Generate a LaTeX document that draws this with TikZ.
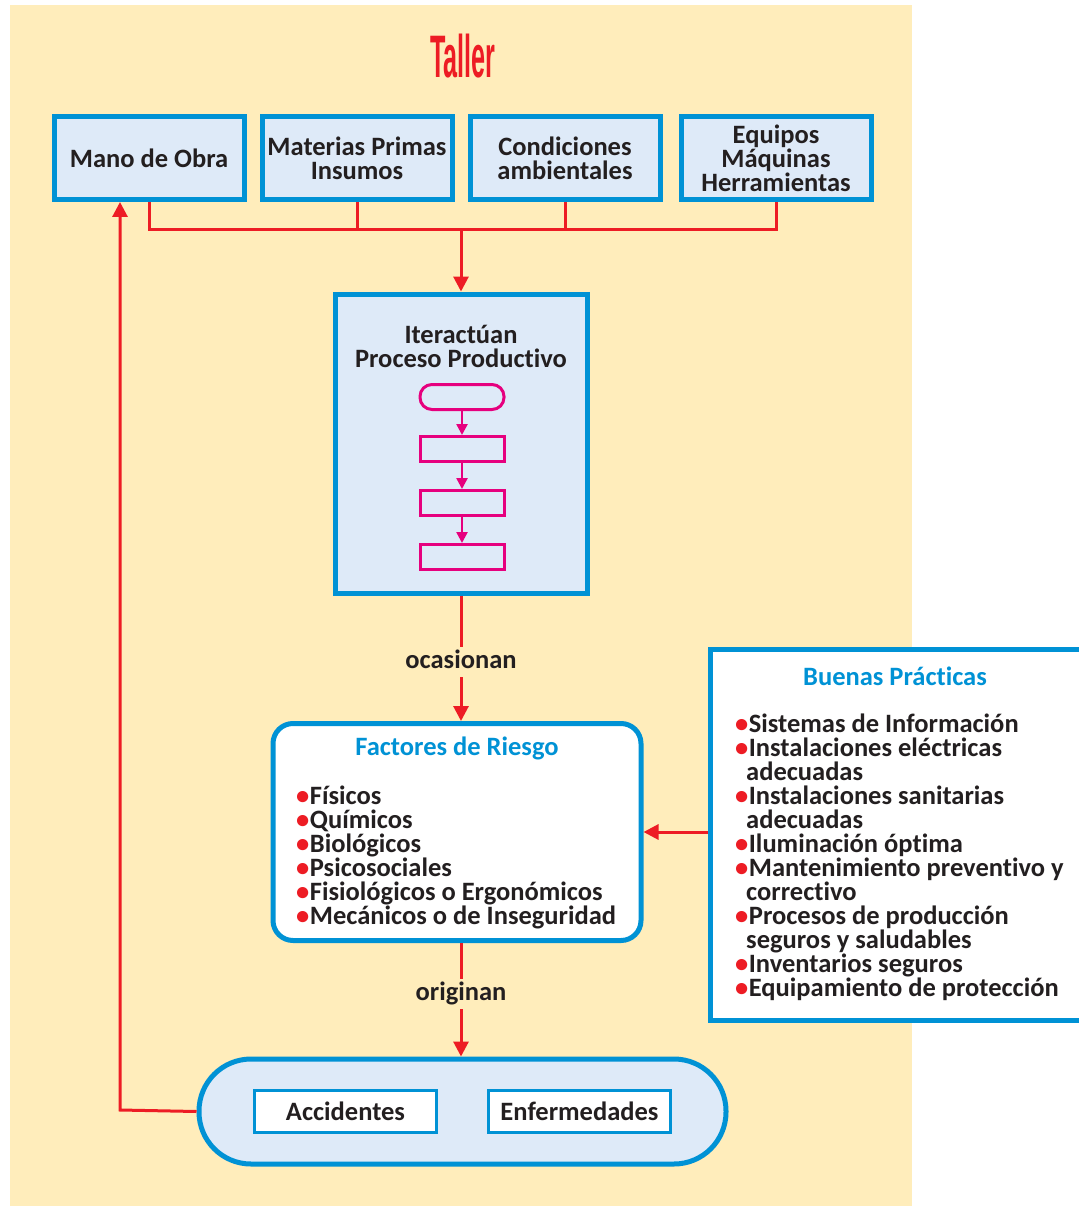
\documentclass[tikz,border=0pt]{standalone}
\usepackage{graphicx}
\usepackage{fontspec}
\setmainfont{Carlito}[Ligatures=NoCommon]
\newfontfamily\titlefont{Liberation Sans}
\usetikzlibrary{arrows.meta}
\definecolor{bblue}{RGB}{0,146,213}
\definecolor{lblue}{RGB}{222,234,248}
\definecolor{rred}{RGB}{237,28,36}
\definecolor{mag}{RGB}{230,0,126}
\definecolor{cream}{RGB}{255,237,187}
\definecolor{txt}{RGB}{35,31,32}
\newcommand{\bul}{\textcolor{rred}{•}\kern0.5pt}
\tikzset{
  topbox/.style={draw=bblue, fill=lblue, line width=5pt, minimum width=190pt, minimum height=83pt, align=center, inner sep=0pt},
  redline/.style={draw=rred, line width=3pt},
  redarrow/.style={draw=rred, line width=3pt, -{Triangle[length=15pt,width=15pt]}},
  magbox/.style={draw=mag, line width=3pt, minimum width=84pt, minimum height=25pt, inner sep=0pt},
  magarrow/.style={draw=mag, line width=2.5pt, -{Triangle[length=11pt,width=11pt]}},
  item/.style={anchor=west, inner sep=0pt, text height=18pt, text depth=6pt},
  heading/.style={text=bblue, inner sep=0pt},
  lbl/.style={fill=cream, inner sep=3pt, text height=18pt, text depth=6pt}
}
\begin{document}
\begin{tikzpicture}[x=1pt,y=-1pt, font=\fontsize{26.5}{24}\selectfont\bfseries, text=txt]
\useasboundingbox (0,0) rectangle (1078,1206);
\fill[white] (0,0) rectangle (1078,1206);
\fill[cream] (10,5) rectangle (912,1206);

\node[text=rred, inner sep=0pt] (title) at (463,56) {\titlefont\bfseries\scalebox{0.42}[1]{\fontsize{60}{60}\selectfont Taller}};

% top boxes
\node[topbox] (mo) at (149,158) {Mano de Obra};
\node[topbox] (mp) at (357,158) {Materias Primas\\Insumos};
\node[topbox] (co) at (565,158) {Condiciones\\ambientales};
\node[topbox] (eq) at (776,158) {Equipos\\Máquinas\\Herramientas};

\coordinate (j) at (461,230);
\draw[redline] (mo.south) |- (j) -| (eq.south);
\draw[redline] (mp.south) -- (mp.south |- j);
\draw[redline] (co.south) -- (co.south |- j);

% process box
\node[draw=bblue, fill=lblue, line width=5pt, minimum width=252pt, minimum height=299pt, inner sep=0pt] (pp) at (461,443.5) {};
\draw[redarrow] (j) -- (pp.north);
\node[align=center, inner sep=0pt] (ppt) at (461,346) {Iteractúan\\Proceso Productivo};
\node[draw=mag, line width=3pt, minimum width=84pt, minimum height=25pt, inner sep=0pt, rounded corners=12pt] (s0) at (462,397) {};
\node[magbox] (s1) at (462,449) {};
\node[magbox] (s2) at (462,503) {};
\node[magbox] (s3) at (462,557) {};
\draw[magarrow] (s0) -- (s1);
\draw[magarrow] (s1) -- (s2);
\draw[magarrow] (s2) -- (s3);

% factores
\node[draw=bblue, fill=white, line width=5pt, rounded corners=20pt, minimum width=368pt, minimum height=217pt, inner sep=0pt] (fr) at (457,832) {};
\draw[redarrow] (pp.south) -- node[lbl, pos=0.53] (oc) {ocasionan} (fr.north -| pp.south);
\node[heading] (frt) at (457,748) {Factores de Riesgo};
\foreach \t [count=\i] in {Físicos,Químicos,Biológicos,Psicosociales,Fisiológicos o Ergonómicos,Mecánicos o de Inseguridad}
  \node[item] (f\i) at (296,{798+24*(\i-1)}) {\bul\t};

% bottom pill
\node[draw=bblue, fill=lblue, line width=5pt, rounded corners=52pt, minimum width=527pt, minimum height=105pt, inner sep=0pt] (pill) at (462.5,1111.5) {};
\draw[redarrow] (fr.south -| pp.south) -- node[lbl, pos=0.45] (og) {originan} (pill.north -| pp.south);
\node[draw=bblue, fill=white, line width=3.5pt, minimum width=182pt, minimum height=42pt, inner sep=0pt] (acc) at (345.5,1111.5) {Accidentes};
\node[draw=bblue, fill=white, line width=3.5pt, minimum width=182pt, minimum height=42pt, inner sep=0pt] (enf) at (579.5,1111.5) {Enfermedades};

\coordinate (ret) at (120,1110);
\draw[redarrow] (pill.west) -- (ret) -- (ret |- mo.south);

% buenas practicas
\node[draw=bblue, fill=white, line width=5pt, minimum width=400pt, minimum height=371pt, inner sep=0pt, anchor=north west] (bp) at (708,647) {};
\node[heading] (bpt) at (895,676) {Buenas Prácticas};
\foreach \t/\k [count=\i] in {\bul Sistemas de Información/0,\bul Instalaciones eléctricas/0,adecuadas/1,\bul Instalaciones sanitarias/0,adecuadas/1,\bul Iluminación óptima/0,\bul Mantenimiento preventivo y/0,correctivo/1,\bul Procesos de producción/0,seguros y saludables/1,\bul Inventarios seguros/0,\bul Equipamiento de protección/0}
  \node[item] (b\i) at ({735+11*\k},{726+24*(\i-1)}) {\t};
\draw[redarrow] (bp.west |- 0,832) -- (fr.east |- 0,832);
\end{tikzpicture}
\end{document}
